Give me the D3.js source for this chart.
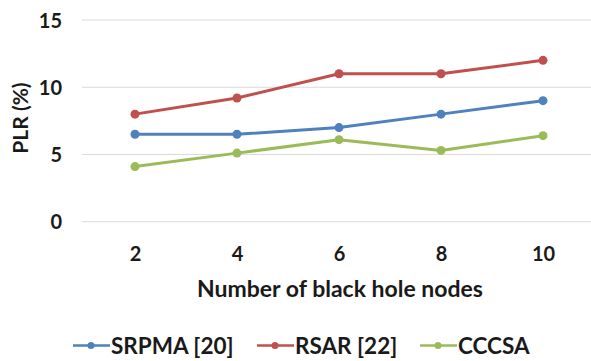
<!DOCTYPE html>
<html><head><meta charset="utf-8">
<script src="https://cdn.jsdelivr.net/npm/d3@7"></script>
<style>body{margin:0;background:#fff}svg{display:block}text{font-family:Lato,"Open Sans",sans-serif;font-weight:bold;fill:#1a1a1a}</style>
</head><body><svg id="c" width="591" height="361"></svg>
<script>
const categories = ["2","4","6","8","10"];
const srpma = [6.5, 6.5, 7.0, 8.0, 9.0];
const rsar = [8.0, 9.2, 11.0, 11.0, 12.0];
const cccsa = [4.1, 5.1, 6.1, 5.3, 6.4];
const yTicks = [0, 5, 10, 15];
const seriesNames = ["SRPMA [20]", "RSAR [22]", "CCCSA"];
const colors = ["#4f81bd", "#c0504d", "#9bbb59"];
const series = [srpma, rsar, cccsa];

const svg = d3.select("#c");
const x = d3.scalePoint().domain(categories).range([135, 543]);
const y = d3.scaleLinear().domain([0, 15]).range([221.7, 20]);

// grid
svg.append("g").selectAll("line").data(yTicks).join("line")
  .attr("x1", 82).attr("x2", 591)
  .attr("y1", d => y(d)).attr("y2", d => y(d))
  .attr("stroke", "#d9d9d9").attr("stroke-width", 1);

// y axis labels
const yAxis = d3.axisLeft(y).tickValues(yTicks).tickSize(0).tickPadding(0);
const gy = svg.append("g").attr("transform", "translate(62,0)").call(yAxis);
gy.select(".domain").remove();
gy.selectAll("text").style("font-size", "20px").attr("dy", "0.36em").attr("fill", "#1a1a1a");

// x axis labels
const xAxis = d3.axisBottom(x).tickSize(0).tickPadding(0);
const gx = svg.append("g").attr("transform", "translate(0,246.5)").call(xAxis);
gx.select(".domain").remove();
gx.selectAll("text").style("font-size", "20px").attr("dy", "0.72em").attr("fill", "#1a1a1a");

// titles
svg.append("text").attr("x", 340).attr("y", 297).attr("text-anchor", "middle")
  .style("font-size", "23px").text("Number of black hole nodes");
svg.append("text").attr("transform", "translate(28,118) rotate(-90)").attr("text-anchor", "middle")
  .style("font-size", "21px").text("PLR (%)");

// lines
const line = d3.line().x((d, i) => x(categories[i])).y(d => y(d));
series.forEach((s, k) => {
  svg.append("path").datum(s).attr("d", line).attr("fill", "none")
    .attr("stroke", colors[k]).attr("stroke-width", 3).attr("stroke-linejoin", "round");
  svg.append("g").selectAll("circle").data(s).join("circle")
    .attr("cx", (d, i) => x(categories[i])).attr("cy", d => y(d)).attr("r", 4.5)
    .attr("fill", colors[k]);
});

// legend
const legX = [73, 257, 420];
const lg = svg.append("g");
seriesNames.forEach((n, k) => {
  const g = lg.append("g").attr("transform", `translate(${legX[k]},345.5)`);
  g.append("line").attr("x1", 0).attr("x2", 37).attr("stroke", colors[k]).attr("stroke-width", 2.5);
  g.append("circle").attr("cx", 18).attr("r", 3.5).attr("fill", colors[k]);
  g.append("text").attr("x", 38).attr("dy", "0.36em").style("font-size", "22.5px").text(n);
});
</script></body></html>
